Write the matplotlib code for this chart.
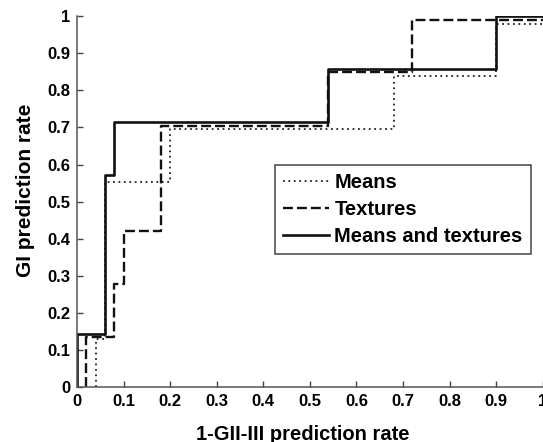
import matplotlib.pyplot as plt

plt.rcParams['font.family'] = ['Liberation Sans', 'DejaVu Sans']
plt.rcParams['font.weight'] = 'bold'

# ROC steps (step "post" points)
means_x = [0.04, 0.04, 0.06, 0.20, 0.68, 0.90, 1.00]
means_y = [0.00, 0.13, 0.553, 0.695, 0.838, 0.978, 0.978]

textures_x = [0.02, 0.02, 0.08, 0.10, 0.18, 0.54, 0.72, 1.00]
textures_y = [0.00, 0.135, 0.278, 0.42, 0.705, 0.848, 0.99, 0.99]

both_x = [0.00, 0.00, 0.06, 0.08, 0.54, 0.90, 1.00]
both_y = [0.00, 0.143, 0.571, 0.714, 0.857, 1.00, 1.00]

ticks = [0, 0.1, 0.2, 0.3, 0.4, 0.5, 0.6, 0.7, 0.8, 0.9, 1]
tick_labels = ['0', '0.1', '0.2', '0.3', '0.4', '0.5', '0.6', '0.7', '0.8', '0.9', '1']

fig = plt.figure(figsize=(5.43, 4.42), dpi=100)
ax = fig.add_axes([77 / 543, 54.7 / 442, 465.7 / 543, 371.3 / 442])

ax.step(means_x, means_y, where='post', color='#222222', lw=1.3,
        dashes=(1, 2), label='Means')
ax.step(textures_x, textures_y, where='post', color='#111111', lw=1.7,
        dashes=(4.2, 1.7), label='Textures')
ax.step(both_x, both_y, where='post', color='#111111', lw=1.9,
        label='Means and textures')

ax.set_xlim(0, 1)
ax.set_ylim(0, 1)
ax.set_xticks(ticks)
ax.set_xticklabels(tick_labels)
ax.set_yticks(ticks)
ax.set_yticklabels(tick_labels)
ax.tick_params(direction='in', length=4, width=1, colors='#444444',
               labelcolor='black', labelsize=12, pad=5)
for lab in ax.get_xticklabels() + ax.get_yticklabels():
    lab.set_fontweight('bold')

ax.spines['top'].set_visible(False)
ax.spines['right'].set_visible(False)
for s in ['left', 'bottom']:
    ax.spines[s].set_color('#555555')
    ax.spines[s].set_linewidth(1.1)

ax.set_xlabel('1-GII-III prediction rate', fontsize=14.5, fontweight='bold')
ax.set_ylabel('GI prediction rate', fontsize=15, fontweight='bold')
ax.xaxis.set_label_coords(0.485, -0.102)
ax.yaxis.set_label_coords(-0.09, 0.531)

leg = ax.legend(loc='upper left', bbox_to_anchor=(0.425, 0.599), borderaxespad=0,
                fancybox=False, framealpha=1, edgecolor='#444444',
                prop={'size': 14.5, 'weight': 'bold'}, handlelength=2.3,
                handletextpad=0.25, labelspacing=0.4, borderpad=0.4)
leg.get_frame().set_linewidth(1.1)

fig.savefig('out.png', dpi=100)
